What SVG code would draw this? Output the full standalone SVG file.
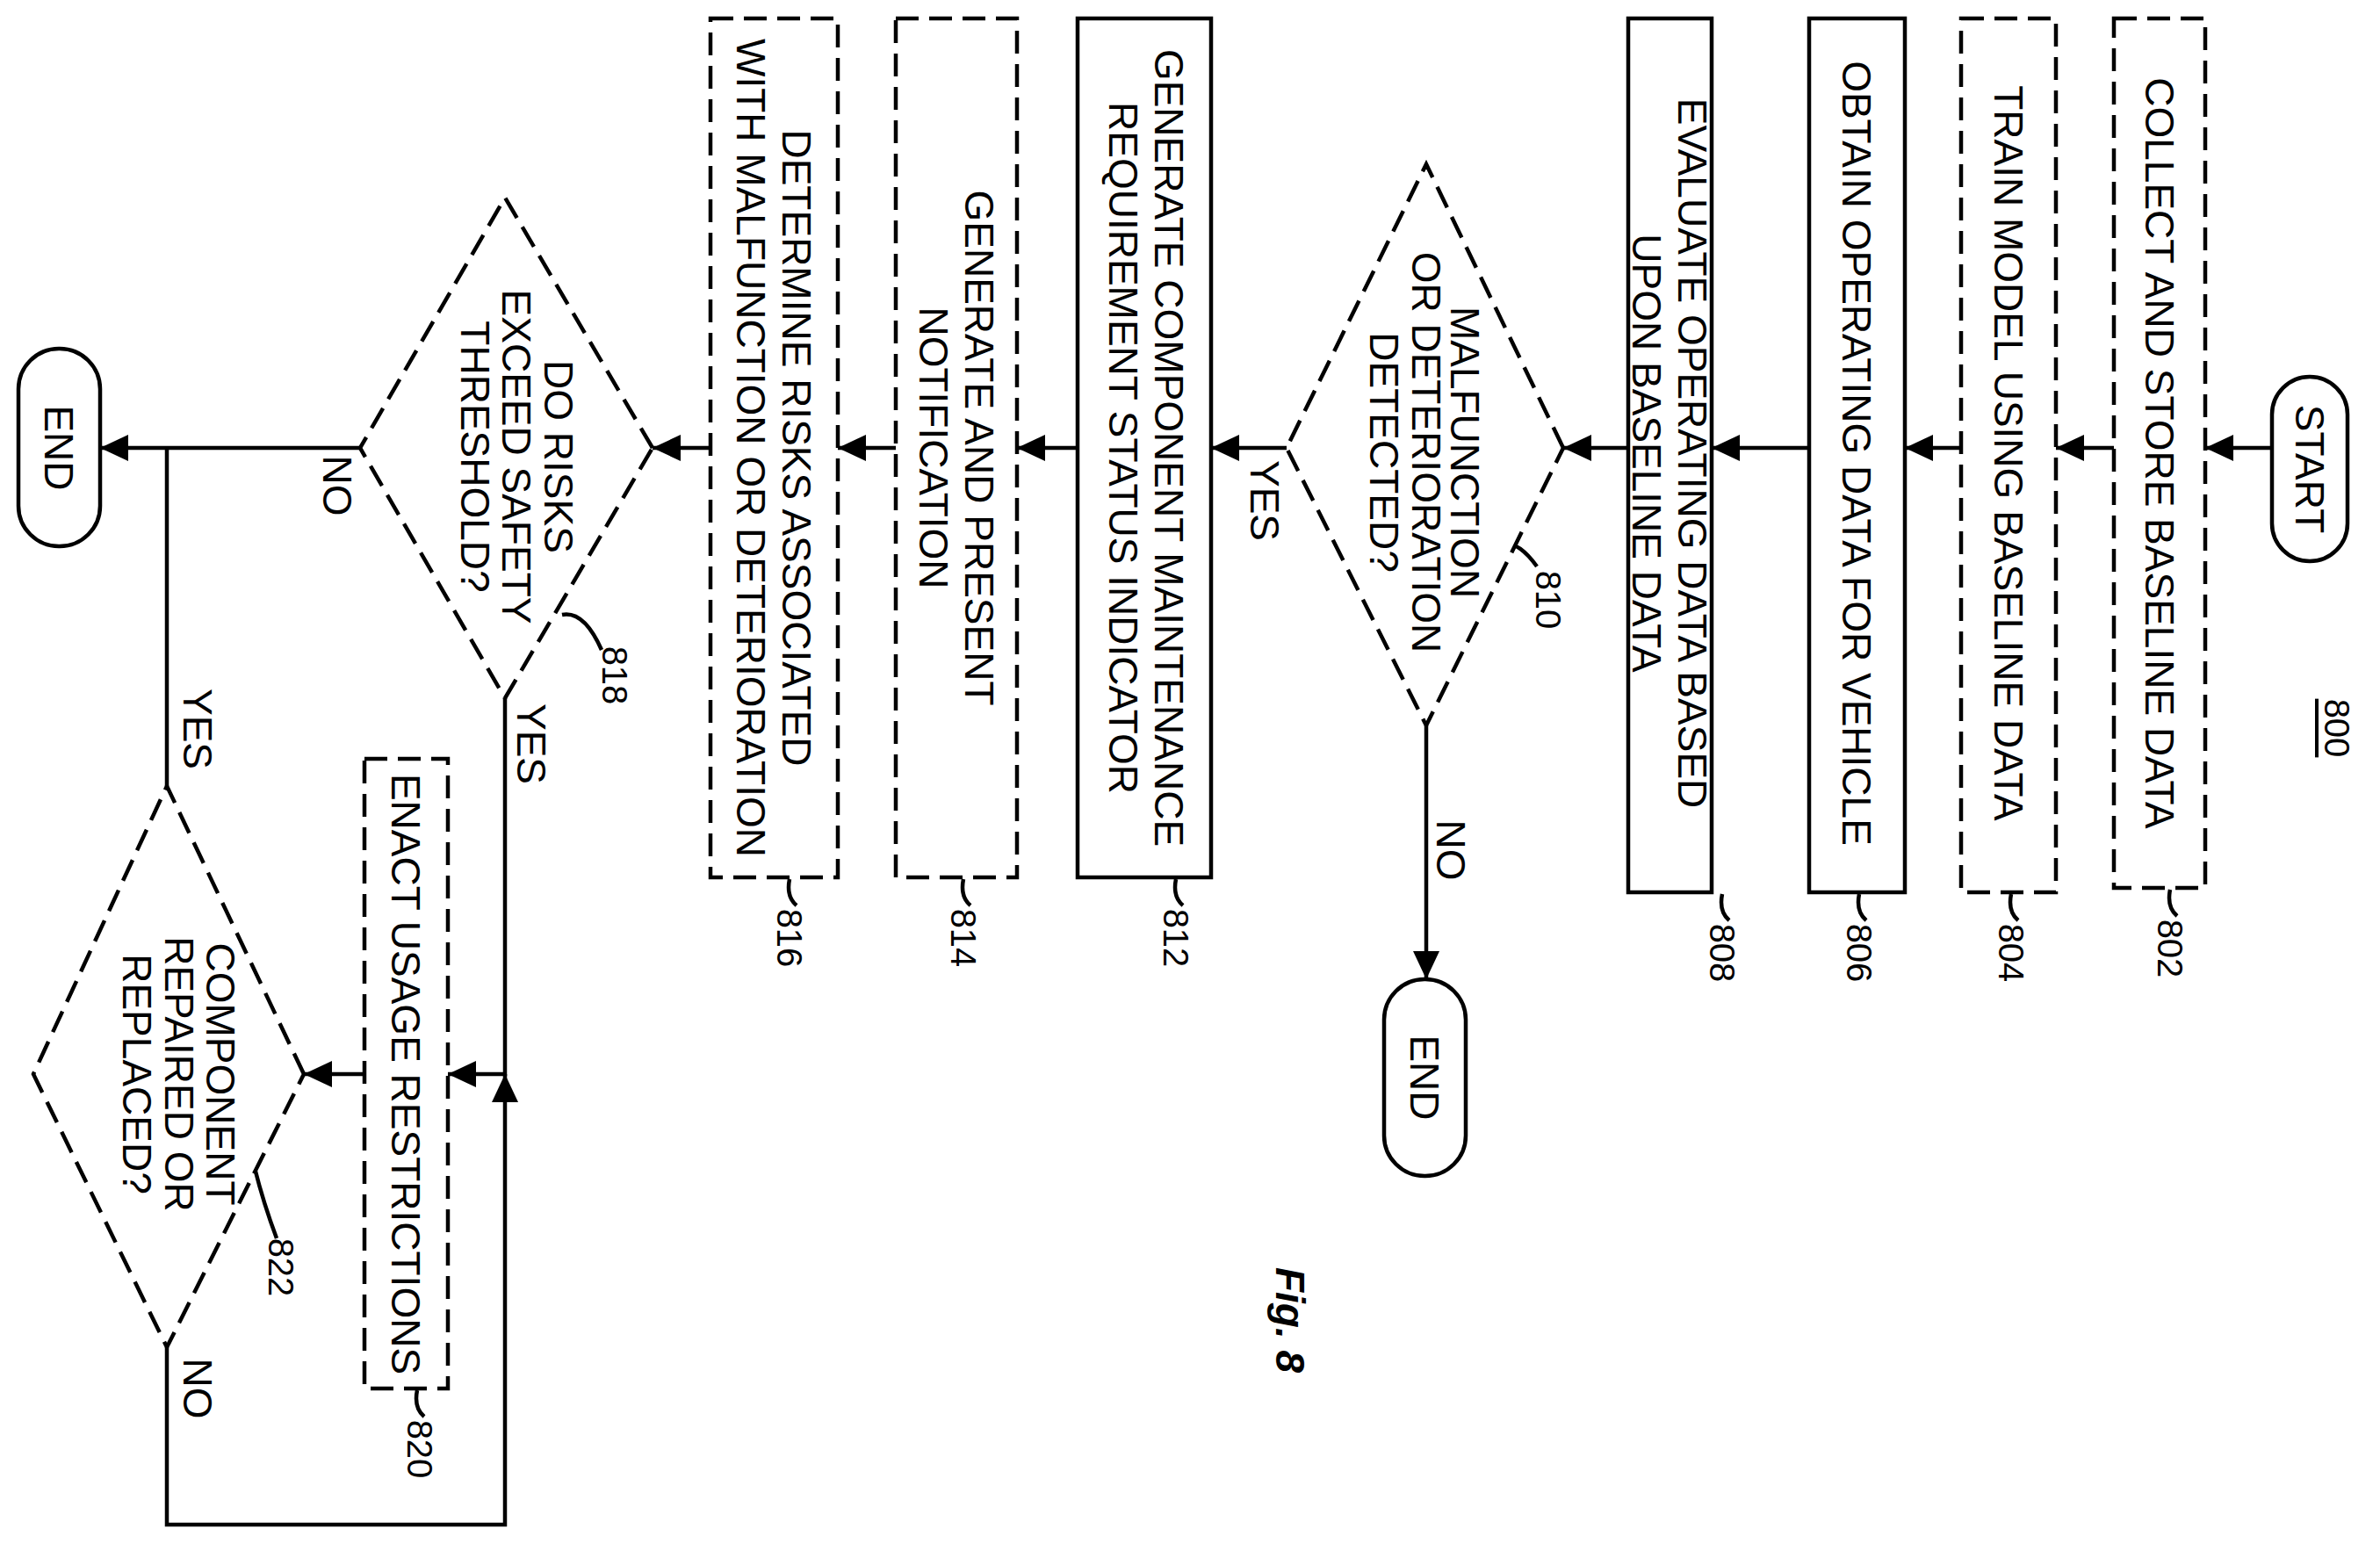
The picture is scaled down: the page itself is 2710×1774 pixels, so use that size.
<svg xmlns="http://www.w3.org/2000/svg" width="2710" height="1774" viewBox="0 0 2710 1774">
<style>
.b{fill:#fff;stroke:#000;stroke-width:4.5}
.d{stroke-dasharray:26 12}
.c{fill:none;stroke:#000;stroke-width:4.5}
text{font-family:"Liberation Sans",Arial,sans-serif;font-size:46px;text-anchor:middle;dominant-baseline:central}
.r{font-size:40px}
</style>
<defs><marker id="a" markerUnits="userSpaceOnUse" markerWidth="32" markerHeight="30" refX="32" refY="15" orient="auto"><path d="M0,0L32,15L0,30Z"/></marker></defs>
<rect width="2710" height="1774" fill="#fff"/>
<g id="connectors">
<path class="c" marker-end="url(#a)" d="M2587 510H2511"/>
<path class="c" marker-end="url(#a)" d="M2407 510H2341"/>
<path class="c" marker-end="url(#a)" d="M2233 510H2169"/>
<path class="c" marker-end="url(#a)" d="M2060 510H1949"/>
<path class="c" marker-end="url(#a)" d="M1854 510H1780"/>
<path class="c" marker-end="url(#a)" d="M1465 510H1379"/>
<path class="c" marker-end="url(#a)" d="M1227 510H1158"/>
<path class="c" marker-end="url(#a)" d="M1020 510H954"/>
<path class="c" marker-end="url(#a)" d="M809 510H743"/>
<path class="c" marker-end="url(#a)" d="M410 510H114"/>
<path class="c" marker-end="url(#a)" d="M1624 826V1115"/>
<path class="c" d="M190 895V510"/>
<path class="c" marker-end="url(#a)" d="M575 795V1223H510"/>
<path class="c" marker-end="url(#a)" d="M190 1534V1736H575V1223"/>
<path class="c" marker-end="url(#a)" d="M415 1223H346"/>
<path class="c" d="M2471 1013q-4 20 8 30M2290 1018q-4 20 8 30M2117 1018q-4 20 8 30M1961 1018q-4 20 8 30M1339 1001q-4 20 8 30M1097 1001q-4 20 8 30M899 1001q-4 20 8 30M1700 620q25 -10 50 25M640 700q25 -5 45 40M475 1583q-4 20 8 30M290 1330q10 40 25 80"/>
</g>
<g id="n800"><text class="r" transform="rotate(90 2661 829)" x="2661" y="829" text-decoration="underline">800</text></g>
<g id="start"><rect class="b" x="2587" y="429" width="86" height="210" rx="43"/><text transform="rotate(90 2630 534)" x="2630" y="534">START</text></g>
<g id="n802"><rect class="b d" x="2407" y="21" width="104" height="990"/><text transform="rotate(90 2459 516)" x="2459" y="516">COLLECT AND STORE BASELINE DATA</text><text class="r" transform="rotate(90 2471 1080)" x="2471" y="1080">802</text></g>
<g id="n804"><rect class="b d" x="2233" y="21" width="108" height="995"/><text transform="rotate(90 2287 516)" x="2287" y="516">TRAIN MODEL USING BASELINE DATA</text><text class="r" transform="rotate(90 2290 1085)" x="2290" y="1085">804</text></g>
<g id="n806"><rect class="b" x="2060" y="21" width="109" height="995"/><text transform="rotate(90 2114 516)" x="2114" y="516">OBTAIN OPERATING DATA FOR VEHICLE</text><text class="r" transform="rotate(90 2117 1085)" x="2117" y="1085">806</text></g>
<g id="n808"><rect class="b" x="1854" y="21" width="95" height="995"/><text transform="rotate(90 1927 516)" x="1927" y="516">EVALUATE OPERATING DATA BASED</text><text transform="rotate(90 1875 516)" x="1875" y="516">UPON BASELINE DATA</text><text class="r" transform="rotate(90 1961 1085)" x="1961" y="1085">808</text></g>
<g id="n810"><polygon class="b d" points="1780,510 1624,187 1465,510 1624,826"/><text transform="rotate(90 1668 515)" x="1668" y="515">MALFUNCTION</text><text transform="rotate(90 1624 515)" x="1624" y="515">OR DETERIORATION</text><text transform="rotate(90 1576 515)" x="1576" y="515">DETECTED?</text><text class="r" transform="rotate(90 1763 683)" x="1763" y="683">810</text><text transform="rotate(90 1440 570)" x="1440" y="570">YES</text><text transform="rotate(90 1652 968)" x="1652" y="968">NO</text></g>
<g id="end1"><rect class="b" x="1576" y="1115" width="93" height="224" rx="46"/><text transform="rotate(90 1622 1227)" x="1622" y="1227">END</text></g>
<g id="n812"><rect class="b" x="1227" y="21" width="152" height="978"/><text transform="rotate(90 1331 510)" x="1331" y="510">GENERATE COMPONENT MAINTENANCE</text><text transform="rotate(90 1279 510)" x="1279" y="510">REQUIREMENT STATUS INDICATOR</text><text class="r" transform="rotate(90 1339 1068)" x="1339" y="1068">812</text></g>
<g id="n814"><rect class="b d" x="1020" y="21" width="138" height="978"/><text transform="rotate(90 1115 510)" x="1115" y="510">GENERATE AND PRESENT</text><text transform="rotate(90 1063 510)" x="1063" y="510">NOTIFICATION</text><text class="r" transform="rotate(90 1097 1068)" x="1097" y="1068">814</text></g>
<g id="n816"><rect class="b d" x="809" y="21" width="145" height="978"/><text transform="rotate(90 907 510)" x="907" y="510">DETERMINE RISKS ASSOCIATED</text><text transform="rotate(90 855 510)" x="855" y="510">WITH MALFUNCTION OR DETERIORATION</text><text class="r" transform="rotate(90 899 1068)" x="899" y="1068">816</text></g>
<g id="n818"><polygon class="b d" points="743,510 575,225 410,510 575,795"/><text transform="rotate(90 636 520)" x="636" y="520">DO RISKS</text><text transform="rotate(90 588 520)" x="588" y="520">EXCEED SAFETY</text><text transform="rotate(90 541 520)" x="541" y="520">THRESHOLD?</text><text class="r" transform="rotate(90 700 769)" x="700" y="769">818</text><text transform="rotate(90 384 553)" x="384" y="553">NO</text><text transform="rotate(90 605 847)" x="605" y="847">YES</text></g>
<g id="end2"><rect class="b" x="21" y="397" width="93" height="225" rx="46"/><text transform="rotate(90 67 510)" x="67" y="510">END</text></g>
<g id="n820"><rect class="b d" x="415" y="864" width="95" height="717"/><text transform="rotate(90 462 1223)" x="462" y="1223">ENACT USAGE RESTRICTIONS</text><text class="r" transform="rotate(90 478 1650)" x="478" y="1650">820</text></g>
<g id="n822"><polygon class="b d" points="346,1223 190,895 38,1223 190,1534"/><text transform="rotate(90 251 1223)" x="251" y="1223">COMPONENT</text><text transform="rotate(90 204 1223)" x="204" y="1223">REPAIRED OR</text><text transform="rotate(90 156 1223)" x="156" y="1223">REPLACED?</text><text class="r" transform="rotate(90 320 1443)" x="320" y="1443">822</text><text transform="rotate(90 225 830)" x="225" y="830">YES</text><text transform="rotate(90 225 1581)" x="225" y="1581">NO</text></g>
<g id="fig"><text transform="rotate(90 1469 1503)" x="1469" y="1503" font-size="60" font-weight="bold" font-style="italic">Fig. 8</text></g>
</svg>
